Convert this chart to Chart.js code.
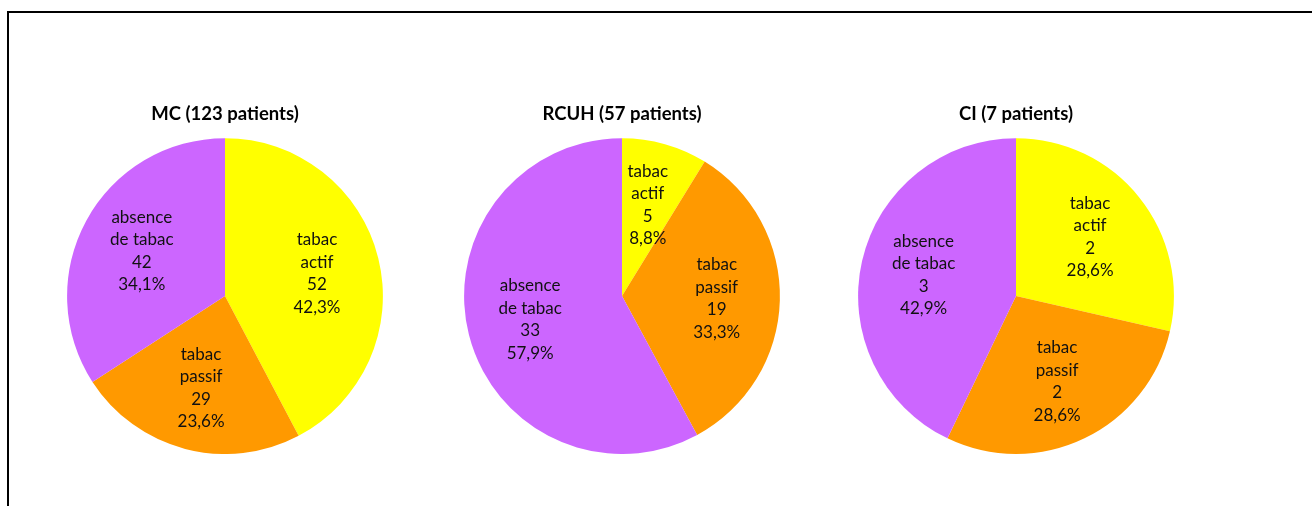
<!DOCTYPE html>
<html>
<head>
<meta charset="utf-8">
<script src="https://cdn.jsdelivr.net/npm/chart.js@4.4.1/dist/chart.umd.min.js"></script>
<style>
  body { margin: 0; background: #fff; width: 1312px; height: 506px; overflow: hidden; position: relative; }
  #frame { position: absolute; left: 7px; top: 11px; width: 1400px; height: 600px; border: 2px solid #000; box-sizing: border-box; }
  .pie { position: absolute; top: 100px; width: 360px; height: 354px; }
</style>
</head>
<body>
<div id="frame"></div>
<div class="pie" style="left:45px"><canvas id="mcChart"></canvas></div>
<div class="pie" style="left:442px"><canvas id="rcuhChart"></canvas></div>
<div class="pie" style="left:836px"><canvas id="ciChart"></canvas></div>
<script>
// Data
const categories = ['tabac actif', 'tabac passif', 'absence de tabac'];
const labelLines = [['tabac', 'actif'], ['tabac', 'passif'], ['absence', 'de tabac']];
const titles = ['MC (123 patients)', 'RCUH (57 patients)', 'CI (7 patients)'];
const mcValues = [52, 29, 42];
const rcuhValues = [5, 19, 33];
const ciValues = [2, 2, 3];
const colors = ['#FFFF00', '#FF9900', '#CC66FF'];

// draws "name / value / percent" inside each slice, like Excel
const sliceLabels = {
    id: 'sliceLabels',
    afterDatasetsDraw(chart) {
        const ctx = chart.ctx;
        const data = chart.data.datasets[0].data;
        const total = data.reduce((a, b) => a + b, 0);
        const meta = chart.getDatasetMeta(0);
        ctx.save();
        ctx.font = '17px Lato, "Open Sans", sans-serif';
        ctx.fillStyle = '#111';
        ctx.textAlign = 'center';
        ctx.textBaseline = 'middle';
        meta.data.forEach((arc, i) => {
            const p = arc.getProps(['x', 'y', 'startAngle', 'endAngle', 'outerRadius'], true);
            const mid = (p.startAngle + p.endAngle) / 2;
            const r = p.outerRadius * 0.6;
            const cx = p.x + Math.cos(mid) * r;
            const cy = p.y + Math.sin(mid) * r;
            const pct = (data[i] / total * 100).toFixed(1).replace('.', ',') + '%';
            const lines = [...labelLines[i], String(data[i]), pct];
            const lh = 22.5;
            lines.forEach((t, k) => {
                ctx.fillText(t, cx, cy + (k - (lines.length - 1) / 2) * lh);
            });
        });
        ctx.restore();
    }
};

function makePie(id, values, title) {
    new Chart(document.getElementById(id), {
        type: 'pie',
        data: {
            labels: categories,
            datasets: [{
                data: values,
                backgroundColor: colors,
                borderWidth: 0
            }]
        },
        options: {
            responsive: true,
            maintainAspectRatio: false,
            animation: false,
            layout: { padding: 0 },
            plugins: {
                legend: { display: false },
                tooltip: { enabled: false },
                title: {
                    display: true,
                    text: title,
                    color: '#000',
                    font: { family: 'Lato, "Open Sans", sans-serif', size: 18.5, weight: 'bold' },
                    padding: { top: 3, bottom: 13 }
                }
            }
        },
        plugins: [sliceLabels]
    });
}

makePie('mcChart', mcValues, titles[0]);
makePie('rcuhChart', rcuhValues, titles[1]);
makePie('ciChart', ciValues, titles[2]);
</script>
</body>
</html>
